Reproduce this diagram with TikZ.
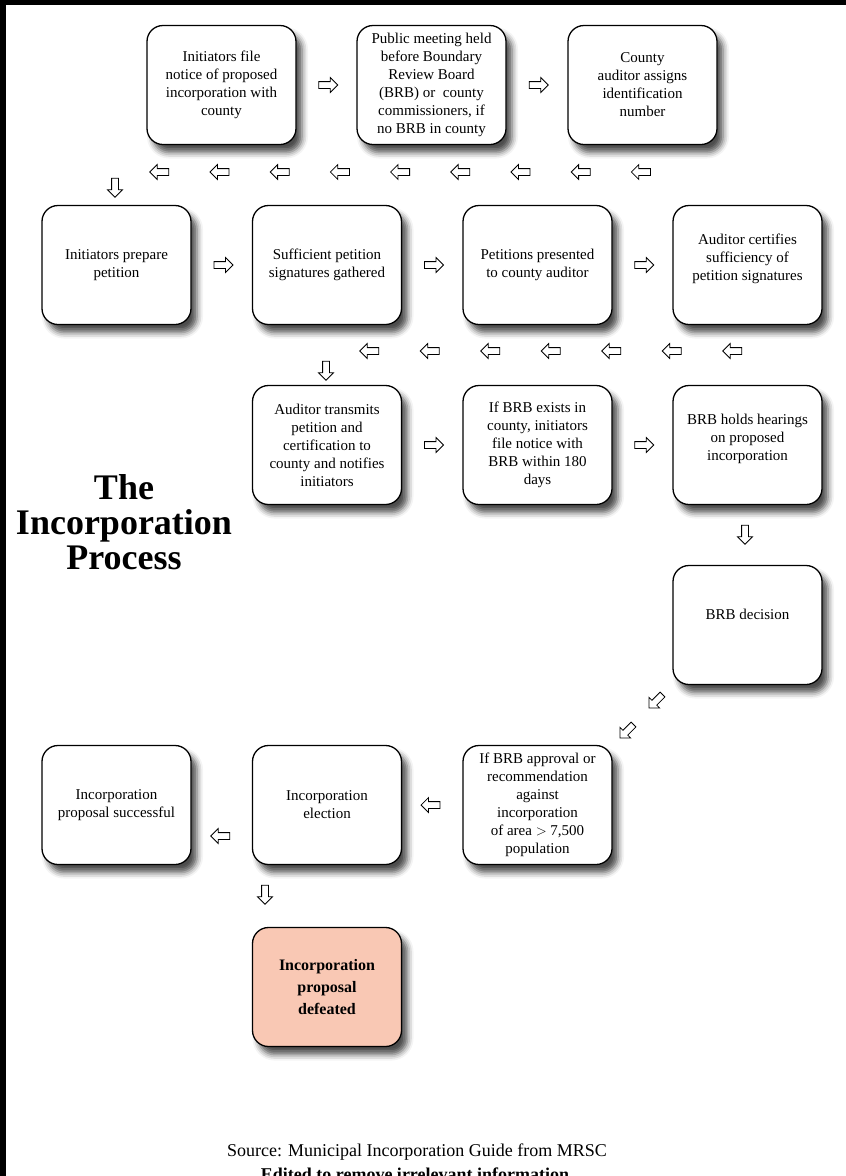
\documentclass[tikz,border=0pt]{standalone}
\usepackage{fontspec}
\setmainfont{Liberation Serif}
\usetikzlibrary{calc, shapes.arrows, shadows.blur}

\begin{document}
\begin{tikzpicture}[x=1pt, y=-1pt,
  box/.style={draw, line width=1.3pt, rounded corners=16pt, fill=white,
    minimum width=149pt, minimum height=119pt, align=center,
    font=\fontsize{15}{18}\selectfont,
    blur shadow={shadow xshift=6pt, shadow yshift=-8pt, shadow blur radius=6pt, shadow opacity=70}},
  arr/.style={single arrow, draw, line width=0.8pt, fill=white, inner sep=0pt,
    text height=3pt, text depth=3pt, minimum height=19pt,
    single arrow head extend=4pt, single arrow head indent=0pt},
  rarr/.style={arr},
  larr/.style={arr, rotate=180},
  darr/.style={arr, rotate=-90},
  sarr/.style={arr, rotate=-135}]

\useasboundingbox (0,0) rectangle (846,1176);
\clip (0,0) rectangle (846,1176);
\fill[black] (0,0) rectangle (846,5);
\fill[black] (0,0) rectangle (6,1176);

% first row
\node[box] (file) at (221.5,85) {Initiators file\\notice of proposed\\incorporation with\\county};
\node[box] (meet) at (431.5,85) {Public meeting held\\before Boundary\\Review Board\\(BRB) or\ \ county\\commissioners, if\\no BRB in county};
\node[box] (idnum) at (642.5,85) {County\\auditor assigns\\identification\\number};

% second row
\node[box] (prep) at (116.5,265) {Initiators prepare\\petition};
\node[box] (gather) at (327,265) {Sufficient petition\\signatures gathered};
\node[box] (present) at (537.5,265) {Petitions presented\\to county auditor};
\node[box, text depth=15pt] (certify) at (747.5,265) {Auditor certifies\\sufficiency of\\petition signatures};

% third row
\node[box] (transmit) at (327,445) {Auditor transmits\\petition and\\certification to\\county and notifies\\initiators};
\node[box] (notice) at (537.5,445) {If BRB exists in\\county, initiators\\file notice with\\BRB within 180\\days};
\node[box, text depth=15pt] (hearing) at (747.5,445) {BRB holds hearings\\on proposed\\incorporation};

\node[box, text depth=21pt] (decision) at (747.5,625) {BRB decision};

% last row
\node[box] (approval) at (537.5,805) {If BRB approval or\\recommendation\\against\\incorporation\\of area $>$ 7,500\\population};
\node[box] (vote) at (327,805) {Incorporation\\election};
\node[box] (success) at (116.5,805) {Incorporation\\proposal successful};

\node[box, fill={rgb,255:red,249;green,200;blue,180}, font=\bfseries\fontsize{16}{22}\selectfont] (defeated) at (327,987) {Incorporation\\proposal\\defeated};

% arrows
\node[rarr] (a1) at ($(file)!0.5!(meet)$) {};
\node[rarr] (a2) at ($(meet)!0.5!(idnum)$) {};
\foreach \i [count=\n] in {0,...,8}
  \node[larr] (b\n) at (161+60.2*\i,172) {};
\node[darr] (c1) at (115,186) {};

\node[rarr] (a3) at ($(prep)!0.5!(gather)$) {};
\node[rarr] (a4) at ($(gather)!0.5!(present)$) {};
\node[rarr] (a5) at ($(present)!0.5!(certify)$) {};
\foreach \i [count=\n] in {0,...,6}
  \node[larr] (d\n) at (371+60.5*\i,351) {};
\node[darr] (c2) at (326,369) {};

\node[rarr] (a6) at ($(transmit)!0.5!(notice)$) {};
\node[rarr] (a7) at ($(notice)!0.5!(hearing)$) {};
\node[darr] (c3) at (745,533) {};

\node[sarr] (e1) at (657,700) {};
\node[sarr] (e2) at (628,730) {};

\node[larr] (a8) at ($(approval)!0.5!(vote)$) {};
\node[larr] (a9) at (222,836) {};
\node[darr] (c4) at (265,893) {};

% title and source
\node[font=\bfseries\fontsize{36}{35}\selectfont, align=center] (title) at (124,522) {The\\Incorporation\\Process};
\node[font=\fontsize{18}{20}\selectfont] (src) at (417,1152) {Source: Municipal Incorporation Guide from MRSC};
\node[font=\bfseries\fontsize{18}{20}\selectfont] (edit) at (415,1174) {Edited to remove irrelevant information};

\end{tikzpicture}
\end{document}
